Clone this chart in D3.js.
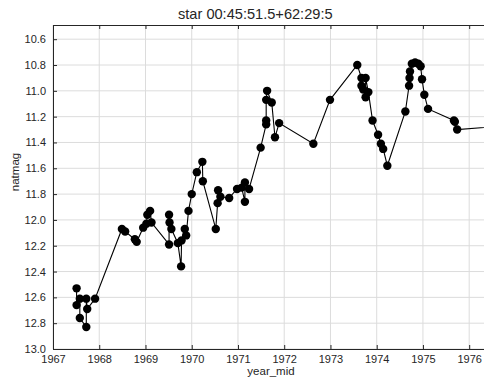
<html>
<head>
    <script src="https://d3js.org/d3.v7.min.js"></script>
    <style>
        body { margin: 0; background: #fff; }
        text { font-family: "Liberation Sans", Arial, sans-serif; fill: #262626; }
    </style>
</head>
<body>
    <svg id="chart"></svg>

    <script>
        var Width = 484, Height = 387;
        var Left = 53, Top = 25, Right = 490, Bottom = 349;

        var years = [
            1967.51, 1967.51, 1967.58, 1967.58, 1967.72, 1967.72, 1967.74, 1967.91,
            1968.49, 1968.56, 1968.77, 1968.81, 1968.95, 1969.02, 1969.04, 1969.10, 1969.13,
            1969.51, 1969.51, 1969.52, 1969.56, 1969.70, 1969.77, 1969.78, 1969.85, 1969.88,
            1969.93, 1970.00, 1970.11, 1970.23, 1970.24,
            1970.52, 1970.56, 1970.57, 1970.62, 1970.81, 1970.98, 1971.08, 1971.15, 1971.15, 1971.24,
            1971.49, 1971.61, 1971.61, 1971.61, 1971.63, 1971.73, 1971.80, 1971.89,
            1972.63, 1972.99,
            1973.58, 1973.67, 1973.67, 1973.71, 1973.76, 1973.76, 1973.82, 1973.91,
            1974.03, 1974.09, 1974.14, 1974.23,
            1974.62, 1974.70, 1974.71, 1974.72, 1974.76, 1974.83, 1974.90, 1974.95, 1974.98,
            1975.03, 1975.11, 1975.67, 1975.69, 1975.74, 1976.80
        ];
        var mags = [
            12.53, 12.66, 12.61, 12.76, 12.83, 12.61, 12.69, 12.61,
            12.07, 12.09, 12.15, 12.17, 12.06, 12.03, 11.96, 11.93, 12.02,
            12.19, 11.96, 12.02, 12.07, 12.18, 12.36, 12.16, 12.07, 12.12,
            11.93, 11.80, 11.63, 11.55, 11.70,
            12.07, 11.87, 11.77, 11.82, 11.83, 11.76, 11.75, 11.86, 11.71, 11.76,
            11.44, 11.26, 11.23, 11.07, 11.00, 11.09, 11.36, 11.25,
            11.41, 11.07,
            10.80, 10.90, 10.96, 10.99, 11.05, 10.90, 11.01, 11.23,
            11.34, 11.41, 11.45, 11.58,
            11.16, 10.96, 10.90, 10.85, 10.79, 10.78, 10.79, 10.81, 10.91,
            11.03, 11.14, 11.23, 11.24, 11.30, 11.27
        ];
        var xTicks = [1967, 1968, 1969, 1970, 1971, 1972, 1973, 1974, 1975, 1976];
        var yTicks = [10.6, 10.8, 11.0, 11.2, 11.4, 11.6, 11.8, 12.0, 12.2, 12.4, 12.6, 12.8, 13.0];
        var title = "star 00:45:51.5+62:29:53";

        var data = years.map(function(y, i){ return {year: y, mag: mags[i]}; });

        var x = d3.scaleLinear().domain([1967, 1976.45]).range([Left, Right]);
        var y = d3.scaleLinear().domain([10.49, 13.0]).range([Top, Bottom]);

        var svg = d3.select("#chart").attr("width", Width).attr("height", Height);

        svg.append("clipPath").attr("id", "plotclip")
            .append("rect").attr("x", Left).attr("y", Top)
            .attr("width", Right - Left).attr("height", Bottom - Top);
        svg.append("clipPath").attr("id", "titleclip")
            .append("rect").attr("x", 0).attr("y", 0).attr("width", 333).attr("height", 24);

        // grid
        var grid = svg.append("g");
        grid.selectAll(".vx").data(xTicks).enter().append("line")
            .attr("x1", function(d){ return x(d); }).attr("x2", function(d){ return x(d); })
            .attr("y1", Top).attr("y2", Bottom)
            .attr("stroke", "#dcdcdc").attr("stroke-width", 1);
        grid.selectAll(".hy").data(yTicks).enter().append("line")
            .attr("x1", Left).attr("x2", Right)
            .attr("y1", function(d){ return y(d); }).attr("y2", function(d){ return y(d); })
            .attr("stroke", "#dcdcdc").attr("stroke-width", 1);

        // axes (ticks point inward)
        var fmt = d3.format(".1f");
        var xb = svg.append("g").attr("transform", "translate(0," + Bottom + ")")
            .call(d3.axisBottom(x).tickValues(xTicks).tickFormat(d3.format("d")).tickSizeInner(-4).tickSizeOuter(0).tickPadding(6));
        var xt = svg.append("g").attr("transform", "translate(0," + Top + ")")
            .call(d3.axisTop(x).tickValues(xTicks).tickFormat("").tickSizeInner(-4).tickSizeOuter(0));
        var yl = svg.append("g").attr("transform", "translate(" + Left + ",0)")
            .call(d3.axisLeft(y).tickValues(yTicks).tickFormat(fmt).tickSizeInner(-4).tickSizeOuter(0).tickPadding(7));
        [xb, xt, yl].forEach(function(g){
            g.selectAll("path, line").attr("stroke", "#262626");
            g.selectAll("text").style("font-size", "11px").attr("fill", "#262626")
                .style("font-family", "'Liberation Sans', Arial, sans-serif");
        });

        // series
        var plot = svg.append("g").attr("clip-path", "url(#plotclip)");
        plot.append("path").datum(data)
            .attr("fill", "none").attr("stroke", "#000").attr("stroke-width", 1.1)
            .attr("d", d3.line().x(function(d){ return x(d.year); }).y(function(d){ return y(d.mag); }));
        plot.selectAll("circle").data(data).enter().append("circle")
            .attr("cx", function(d){ return x(d.year); })
            .attr("cy", function(d){ return y(d.mag); })
            .attr("r", 4.2).attr("fill", "#000");

        // labels
        svg.append("text").attr("clip-path", "url(#titleclip)")
            .attr("x", 178).attr("y", 19).style("font-size", "14.6px").text(title);
        svg.append("text").attr("x", 271).attr("y", 375).attr("text-anchor", "middle")
            .style("font-size", "11.5px").text("year_mid");
        svg.append("text").attr("transform", "translate(19,172) rotate(-90)")
            .attr("text-anchor", "middle").style("font-size", "11.5px").text("natmag");
    </script>
</body>
</html>
